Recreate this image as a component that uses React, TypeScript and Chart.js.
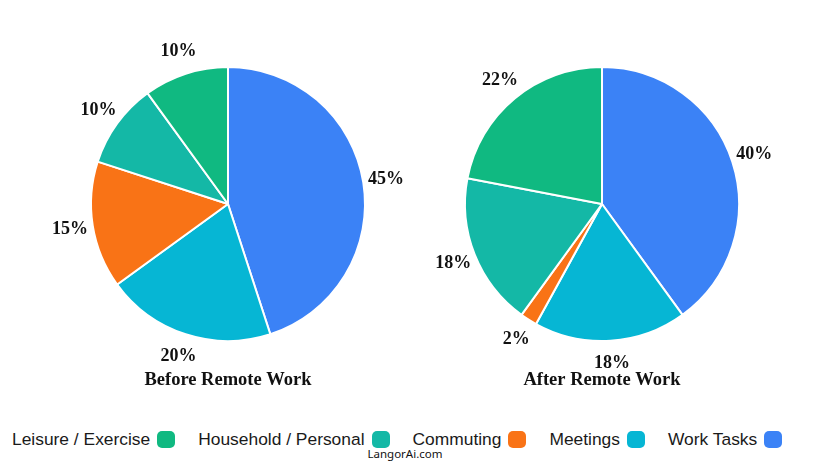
import React, { useEffect, useRef } from "react";
import { Chart, registerables } from "chart.js";

Chart.register(...registerables);

const categories = ["Work Tasks", "Meetings", "Commuting", "Household / Personal", "Leisure / Exercise"];
const beforeValues = [45, 20, 15, 10, 10];
const afterValues = [40, 18, 2, 18, 22];
const colors = ["#3b82f6", "#06b6d4", "#f97316", "#14b8a6", "#10b981"];
const chartTitles = ["Before Remote Work", "After Remote Work"];

const SERIF = '"Liberation Serif", "Times New Roman", serif';

function makeLabelPlugin(title: string) {
  return {
    id: "outerLabels",
    afterDatasetsDraw(chart: any) {
      const ctx = chart.ctx;
      const meta = chart.getDatasetMeta(0);
      const data = chart.data.datasets[0].data as number[];
      ctx.save();
      ctx.fillStyle = "#111111";
      ctx.font = `bold 18px ${SERIF}`;
      ctx.textAlign = "center";
      ctx.textBaseline = "middle";
      let cx = 0, cy = 0;
      meta.data.forEach((arc: any, i: number) => {
        const p = arc.getProps(["startAngle", "endAngle", "x", "y", "outerRadius"], true);
        cx = p.x; cy = p.y;
        const mid = (p.startAngle + p.endAngle) / 2;
        const lr = p.outerRadius + 23;
        ctx.fillText(`${data[i]}%`, p.x + Math.cos(mid) * lr, p.y + Math.sin(mid) * lr);
      });
      ctx.font = `bold 18.5px ${SERIF}`;
      ctx.fillText(title, cx, cy + 176);
      ctx.restore();
    },
  };
}

function PieChart({ values, title, padding, width }: { values: number[]; title: string; padding: any; width: number }) {
  const ref = useRef<HTMLCanvasElement | null>(null);
  useEffect(() => {
    if (!ref.current) return;
    const chart = new Chart(ref.current, {
      type: "pie",
      data: {
        labels: categories,
        datasets: [
          {
            data: values,
            backgroundColor: colors,
            borderColor: "#ffffff",
            borderWidth: 2,
          },
        ],
      },
      options: {
        responsive: false,
        animation: false,
        devicePixelRatio: 1,
        layout: { padding },
        plugins: {
          legend: { display: false },
          tooltip: { enabled: false },
          title: { display: false },
        },
      },
      plugins: [makeLabelPlugin(title)],
    });
    return () => chart.destroy();
  }, []);
  return <canvas ref={ref} width={width} height={400} style={{ display: "block", width, height: 400 }} />;
}

export default function App() {
  const legendOrder = [4, 3, 2, 1, 0];
  return (
    <div style={{ position: "relative", width: 811, height: 453 }}>
      <div style={{ position: "absolute", left: 0, top: 0 }}>
        <PieChart values={beforeValues} title={chartTitles[0]} width={405} padding={{ left: 82, top: 58, right: 47, bottom: 66 }} />
      </div>
      <div style={{ position: "absolute", left: 405, top: 0 }}>
        <PieChart values={afterValues} title={chartTitles[1]} width={406} padding={{ left: 51, top: 58, right: 79, bottom: 66 }} />
      </div>
      <div
        style={{
          position: "absolute",
          left: 4,
          top: 419,
          height: 24,
          display: "flex",
          alignItems: "center",
          fontFamily: '"Liberation Sans", Arial, sans-serif',
          fontSize: 17.4,
          color: "#1a1a1a",
          whiteSpace: "nowrap",
        }}
      >
        {legendOrder.map((i) => (
          <div key={i} style={{ display: "flex", alignItems: "center", marginRight: 23 }}>
            <span>{categories[i]}</span>
            <span
              style={{
                display: "inline-block",
                width: 18,
                height: 17,
                borderRadius: 5,
                background: colors[i],
                marginLeft: 7,
              }}
            />
          </div>
        ))}
      </div>
      <div
        style={{
          position: "absolute",
          left: 0,
          width: 794,
          top: 438,
          textAlign: "center",
          fontFamily: '"Noto Sans", "Open Sans", sans-serif',
          fontSize: 11.5,
          lineHeight: "16px",
          color: "#111",
        }}
      >
        LangorAi.com
      </div>
    </div>
  );
}
